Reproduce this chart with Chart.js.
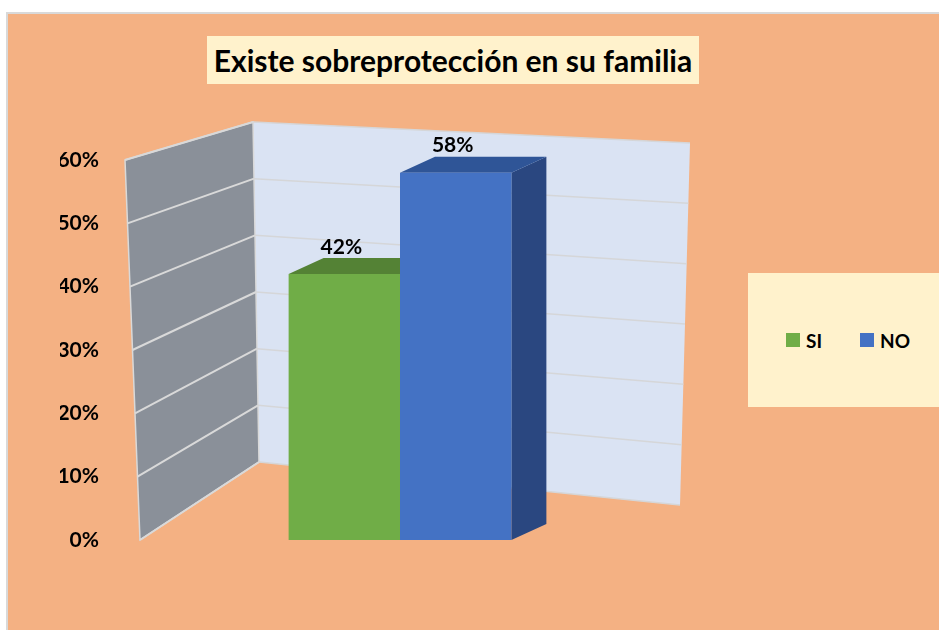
<!DOCTYPE html>
<html>
<head>
<meta charset="utf-8">
<script src="https://cdn.jsdelivr.net/npm/chart.js@4.4.0/dist/chart.umd.min.js"></script>
<style>
  html, body { margin: 0; padding: 0; background: #fff; }
  body { width: 939px; height: 630px; position: relative; overflow: hidden; font-family: Lato, "Open Sans", sans-serif; }
  #frame { position: absolute; left: 6px; top: 12px; width: 940px; height: 630px; background: #F4B183; border-left: 2px solid #d9d9d9; border-top: 2px solid #d9d9d9; }
  #chart { position: absolute; left: 0; top: 0; }
  #title { position: absolute; left: 207px; top: 36px; width: 492px; height: 48px; background: #FFF2CC;
           display: flex; align-items: center; justify-content: center;
           font-weight: bold; font-size: 30px; color: #000; white-space: nowrap; }
  #legend { position: absolute; left: 748px; top: 273px; width: 200px; height: 134px; background: #FFF2CC;
            display: flex; align-items: center; padding-left: 38px; box-sizing: border-box; }
  .item { display: flex; align-items: center; margin-right: 38px; font-weight: bold; font-size: 19px; color: #000; }
  .sw { width: 14px; height: 14px; margin-right: 6px; }
</style>
</head>
<body>
<div id="frame"></div>
<canvas id="chart" width="939" height="630"></canvas>
<div id="title"></div>
<div id="legend"></div>
<script>
const titleText = "Existe sobreprotección en su familia";
const seriesNames = ["SI", "NO"];
const siValues = [0.42];
const noValues = [0.58];
const yTicks = [0, 0.1, 0.2, 0.3, 0.4, 0.5, 0.6];

const fronts = ["#70AD47", "#4472C4"];
const tops = ["#548235", "#2F5597"];
const sides = ["#4E7A32", "#2A4780"];

const DX = 35, DY = -16;

// walls, grid, bar tops and sides (drawn before the front faces)
const depth3d = {
  id: "depth3d",
  beforeDatasetsDraw(chart) {
    const { ctx, chartArea: a, scales: { y } } = chart;
    const y0 = y.getPixelForValue(0), y6 = y.getPixelForValue(0.6);
    const h = y0 - y6;
    const bl = a.left + 128, br = a.right + 15;
    const backL = v => 122 + (y.getPixelForValue(v) - y6) * (340 / h);
    const backR = v => 143 + (y.getPixelForValue(v) - y6) * (362 / h);
    const frontX = v => a.left + 15 * (0.6 - v) / 0.6;
    ctx.save();
    // back wall
    ctx.fillStyle = "#DAE3F3";
    ctx.beginPath();
    ctx.moveTo(bl, backL(0.6)); ctx.lineTo(br, backR(0.6));
    ctx.lineTo(br - 10, backR(0)); ctx.lineTo(bl + 6, backL(0));
    ctx.closePath(); ctx.fill();
    // side wall
    ctx.fillStyle = "#8A9099";
    ctx.beginPath();
    ctx.moveTo(frontX(0.6), y6); ctx.lineTo(bl, backL(0.6));
    ctx.lineTo(bl + 6, backL(0)); ctx.lineTo(frontX(0), y0);
    ctx.closePath(); ctx.fill();
    ctx.strokeStyle = "#D9D9D9"; ctx.lineWidth = 1.5;
    ctx.stroke();
    // grid
    yTicks.forEach(v => {
      const t = v / 0.6;
      ctx.strokeStyle = "#D9D9D9"; ctx.lineWidth = 2;
      ctx.beginPath();
      ctx.moveTo(frontX(v), y.getPixelForValue(v));
      ctx.lineTo(bl + 6 * (1 - t), backL(v));
      ctx.stroke();
      ctx.strokeStyle = "#D5D6D8"; ctx.lineWidth = 1.5;
      ctx.beginPath();
      ctx.moveTo(bl + 6 * (1 - t), backL(v));
      ctx.lineTo(br - 10 * (1 - t), backR(v));
      ctx.stroke();
    });
    // bar tops and sides
    chart.data.datasets.forEach((ds, i) => {
      const bar = chart.getDatasetMeta(i).data[0];
      const l = bar.x - bar.width / 2, r = bar.x + bar.width / 2;
      ctx.fillStyle = sides[i];
      ctx.beginPath();
      ctx.moveTo(r, bar.y); ctx.lineTo(r + DX, bar.y + DY);
      ctx.lineTo(r + DX, bar.base + DY); ctx.lineTo(r, bar.base);
      ctx.closePath(); ctx.fill();
      ctx.fillStyle = tops[i];
      ctx.beginPath();
      ctx.moveTo(l, bar.y); ctx.lineTo(l + DX, bar.y + DY);
      ctx.lineTo(r + DX, bar.y + DY); ctx.lineTo(r, bar.y);
      ctx.closePath(); ctx.fill();
    });
    ctx.restore();
  },
  afterDatasetsDraw(chart) {
    const { ctx } = chart;
    ctx.save();
    ctx.font = "bold 21px Lato";
    ctx.fillStyle = "#000";
    ctx.textAlign = "center";
    ctx.textBaseline = "middle";
    chart.data.datasets.forEach((ds, i) => {
      const bar = chart.getDatasetMeta(i).data[0];
      ctx.fillText(Math.round(ds.data[0] * 100) + "%", bar.x - 3, bar.y + DY - 11);
    });
    ctx.restore();
  }
};

const chart = new Chart(document.getElementById("chart"), {
  type: "bar",
  data: {
    labels: [""],
    datasets: [
      { label: seriesNames[0], data: siValues, backgroundColor: fronts[0] },
      { label: seriesNames[1], data: noValues, backgroundColor: fronts[1] }
    ]
  },
  options: {
    responsive: false,
    animation: false,
    devicePixelRatio: 1,
    layout: { padding: { left: 60, right: 264, top: 160, bottom: 90 } },
    datasets: { bar: { categoryPercentage: 0.405, barPercentage: 1 } },
    scales: {
      x: { display: false },
      y: {
        min: 0, max: 0.6,
        afterFit: s => { s.width = 65; },
        afterBuildTicks: s => { s.ticks = yTicks.map(v => ({ value: v })); },
        grid: { display: false },
        border: { display: false },
        ticks: {
          padding: 18,
          color: "#000",
          font: { family: "Lato", size: 21, weight: "bold" },
          callback: v => Math.round(v * 100) + "%"
        }
      }
    },
    plugins: {
      legend: { display: false },
      tooltip: { enabled: false },
      title: { display: false }
    }
  },
  plugins: [depth3d]
});

document.getElementById("title").textContent = titleText;
const legend = document.getElementById("legend");
chart.data.datasets.forEach(ds => {
  const it = document.createElement("div");
  it.className = "item";
  it.innerHTML = '<span class="sw" style="background:' + ds.backgroundColor + '"></span>' + ds.label;
  legend.appendChild(it);
});
</script>
</body>
</html>
